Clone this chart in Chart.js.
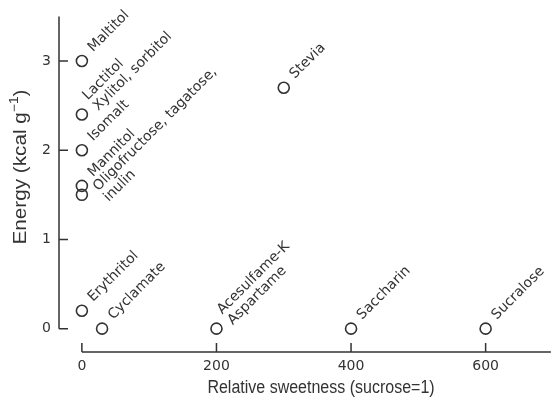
<!DOCTYPE html>
<html>
<head>
<meta charset="utf-8">
<script src="https://cdn.jsdelivr.net/npm/chart.js@4.4.1/dist/chart.umd.min.js"></script>
<style>
  body { margin: 0; background: #fff; }
  #wrap { width: 558px; height: 407px; }
</style>
</head>
<body>
<div id="wrap"><canvas id="sweetChart"></canvas></div>
<script>
// relative sweetness (sucrose = 1) vs energy (kcal/g)
const names = [
  'Maltitol',
  'Lactitol\nXylitol, sorbitol',
  'Isomalt',
  'Mannitol',
  'Oligofructose, tagatose,\ninulin',
  'Erythritol',
  'Cyclamate',
  'Acesulfame-K\nAspartame',
  'Stevia',
  'Saccharin',
  'Sucralose'
];
const sweetness = [0, 0, 0, 0, 0, 0, 30, 200, 300, 400, 600];
const energy = [3.0, 2.4, 2.0, 1.6, 1.5, 0.2, 0, 0, 2.7, 0, 0];
const xTicks = [0, 200, 400, 600];
const yTicks = [0, 1, 2, 3];

// label block shift, in text rows (keeps Mannitol and the oligofructose block apart)
const labelShift = [0, 0, 0, 0, 1, 0, 0, 0, 0, 0, 0];

const ink = '#333';
const labelFont = '14px "DejaVu Sans"';
const stretch = 1.15; // the original text is a bit taller than wide

const axesAndLabels = {
  id: 'axesAndLabels',
  afterDatasetsDraw(chart) {
    const ctx = chart.ctx;
    const xs = chart.scales.x;
    const ys = chart.scales.y;
    const area = chart.chartArea;
    const x0 = xs.getPixelForValue(0);
    const y0 = ys.getPixelForValue(0);

    ctx.save();
    ctx.strokeStyle = ink;
    ctx.lineWidth = 1.5;
    ctx.beginPath();
    // y axis stops at 0, ticks point inwards
    ctx.moveTo(area.left, area.top);
    ctx.lineTo(area.left, y0);
    yTicks.forEach(v => {
      const p = ys.getPixelForValue(v);
      ctx.moveTo(area.left, p);
      ctx.lineTo(area.left + 9, p);
    });
    // x axis starts at 0
    ctx.moveTo(x0, area.bottom);
    ctx.lineTo(area.right, area.bottom);
    xTicks.forEach(v => {
      const p = xs.getPixelForValue(v);
      ctx.moveTo(p, area.bottom);
      ctx.lineTo(p, area.bottom - 9);
    });
    ctx.stroke();

    // point labels, rotated 45 degrees
    ctx.font = labelFont;
    ctx.fillStyle = ink;
    ctx.textAlign = 'left';
    ctx.textBaseline = 'middle';
    const meta = chart.getDatasetMeta(0);
    meta.data.forEach((pt, i) => {
      const lines = names[i].split('\n');
      const first = -(lines.length - 1) / 2 + labelShift[i];
      ctx.save();
      ctx.translate(pt.x, pt.y);
      ctx.rotate(-Math.PI / 4);
      lines.forEach((line, k) => ctx.fillText(line, 14, (first + k) * 15 - 2));
      ctx.restore();
    });

    // axis titles
    ctx.save();
    ctx.translate(321, 388);
    ctx.scale(1, stretch);
    ctx.font = '16px "Liberation Sans"';
    ctx.textAlign = 'center';
    ctx.textBaseline = 'middle';
    ctx.fillText('Relative sweetness (sucrose=1)', 0, 0);
    ctx.restore();

    ctx.translate(21, 167);
    ctx.rotate(-Math.PI / 2);
    ctx.scale(stretch, 1);
    const mainA = 'Energy (kcal g';
    const sup = '\u22121';
    const mainB = ')';
    ctx.font = '18px "Liberation Sans"';
    const wA = ctx.measureText(mainA).width;
    const wB = ctx.measureText(mainB).width;
    ctx.font = '12px "Liberation Sans"';
    const wS = ctx.measureText(sup).width;
    let pos = -(wA + wS + wB) / 2;
    ctx.textAlign = 'left';
    ctx.textBaseline = 'middle';
    ctx.font = '18px "Liberation Sans"';
    ctx.fillText(mainA, pos, 0);
    pos += wA;
    ctx.font = '12px "Liberation Sans"';
    ctx.fillText(sup, pos, -6);
    pos += wS;
    ctx.font = '18px "Liberation Sans"';
    ctx.fillText(mainB, pos, 0);
    ctx.restore();
  }
};

const points = sweetness.map((s, i) => ({ x: s, y: energy[i] }));

new Chart(document.getElementById('sweetChart'), {
  type: 'scatter',
  data: {
    datasets: [{
      data: points,
      pointStyle: 'circle',
      pointRadius: 5.5,
      pointHoverRadius: 5.5,
      borderWidth: 1.6,
      borderColor: ink,
      backgroundColor: 'rgba(0,0,0,0)'
    }]
  },
  options: {
    responsive: true,
    maintainAspectRatio: false,
    animation: false,
    layout: { padding: { top: 7, right: 0, left: 0, bottom: 0 } },
    plugins: {
      legend: { display: false },
      tooltip: { enabled: false }
    },
    scales: {
      x: {
        type: 'linear',
        min: -34,
        max: 697,
        afterBuildTicks: s => { s.ticks = xTicks.map(v => ({ value: v })); },
        afterFit: s => { s.height = 55; },
        grid: { display: false, drawTicks: false },
        border: { display: false },
        ticks: { padding: 6, color: ink, font: { family: 'DejaVu Sans', size: 14 } }
      },
      y: {
        min: -0.262,
        max: 3.5,
        afterBuildTicks: s => { s.ticks = yTicks.map(v => ({ value: v })); },
        afterFit: s => { s.width = 59; },
        grid: { display: false, drawTicks: false },
        border: { display: false },
        ticks: { padding: 8, color: ink, font: { family: 'DejaVu Sans', size: 14 } }
      }
    }
  },
  plugins: [axesAndLabels]
});
</script>
</body>
</html>
